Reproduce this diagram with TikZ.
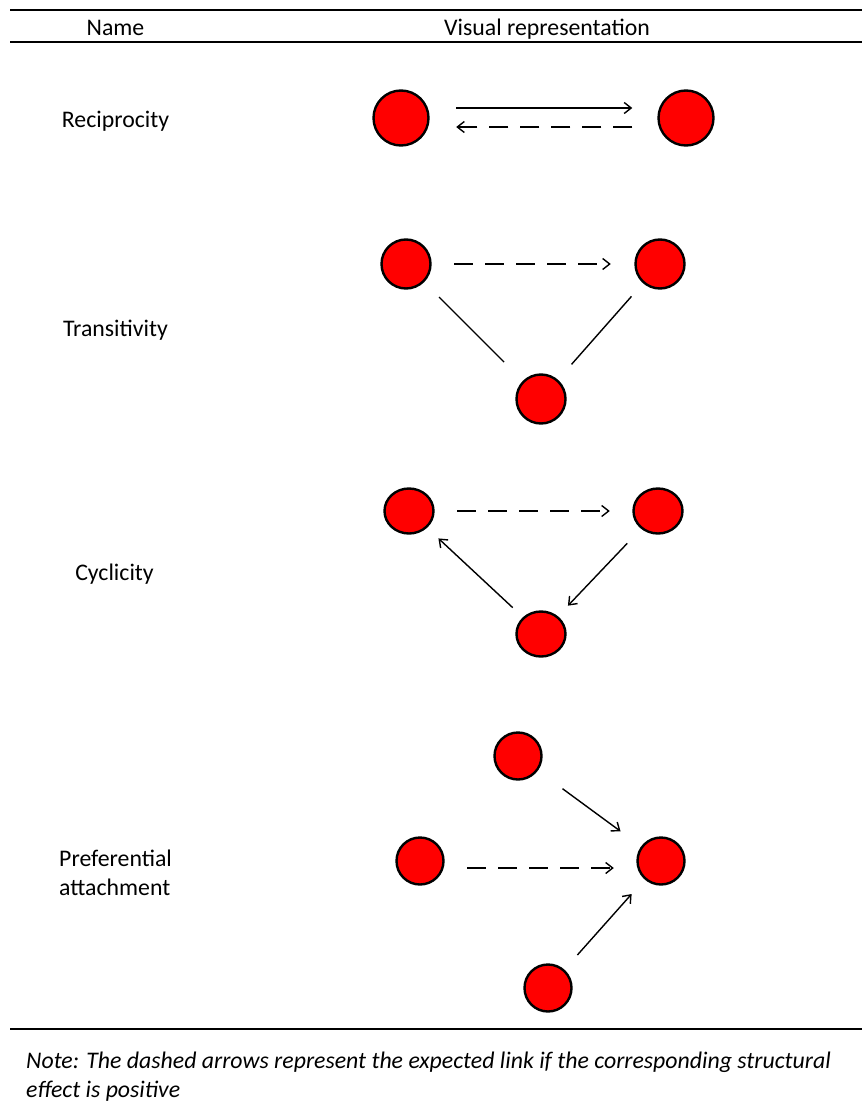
\documentclass[tikz,border=0pt]{standalone}
\usepackage{fontspec}
\setmainfont{Carlito}
\usetikzlibrary{arrows.meta,shapes.geometric}
\definecolor{nodered}{RGB}{255,0,0}
\tikzset{
  lbl/.style={anchor=base, inner sep=0pt, font=\fontsize{23.8}{29}\selectfont},
  dot/.style={circle, draw=black, fill=nodered, line width=2.4pt, minimum size=#1, inner sep=0pt},
  edot/.style={ellipse, draw=black, fill=nodered, line width=2.4pt, minimum width=49pt, minimum height=45pt, inner sep=0pt},
  rule/.style={line width=2.2pt},
  tie/.style={line width=1.4pt},
  arr/.style={line width=1.4pt, -{Straight Barb[length=7pt,width=11pt,line width=1.4pt]}},
  darr/.style={arr, dash pattern=on 19pt off 12pt},
}
\begin{document}
\begin{tikzpicture}[x=1pt,y=-1pt]
\useasboundingbox (0,0) rectangle (862,1113);
% rules
\coordinate (r1a) at (10,10); \coordinate (r1b) at (862,10);
\coordinate (r2a) at (10,42); \coordinate (r2b) at (862,42);
\coordinate (r3a) at (10,1029); \coordinate (r3b) at (862,1029);
\draw[rule] (r1a) -- (r1b);
\draw[rule] (r2a) -- (r2b);
\draw[rule] (r3a) -- (r3b);
% header
\node[lbl] (hname) at (115.5,36) {Name};
\node[lbl] (hvis) at (547,36) {Visual representation};
% labels
\node[lbl] (lrec) at (115.5,128) {Reciprocity};
\node[lbl] (ltra) at (115.5,336) {Transitivity};
\node[lbl] (lcyc) at (114.5,580) {Cyclicity};
\node[lbl, anchor=base west, align=left] (lpref) at (59,895) {Preferential\\attachment};
% Reciprocity
\node[dot=55pt] (ra) at (401,118) {};
\node[dot=55pt] (rb) at (686,118) {};
\draw[arr, shorten <=26.5pt, shorten >=25pt] ([yshift=10pt]ra.east) -- ([yshift=10pt]rb.west);
\draw[darr, shorten <=25pt, shorten >=26.5pt] ([yshift=-9pt]rb.west) -- ([yshift=-9pt]ra.east);
% Transitivity
\node[dot=49pt] (ta) at (406,264) {};
\node[dot=49pt] (tb) at (660,264) {};
\node[dot=49pt] (tc) at (541,399) {};
\draw[darr, shorten <=22.5pt, shorten >=23.5pt] (ta.east) -- (tb.west);
\draw[tie, shorten <=21pt, shorten >=26.5pt] (ta) -- (tc);
\draw[tie, shorten <=17.5pt, shorten >=20.5pt] (tb) -- (tc);
% Cyclicity
\node[edot] (ca) at (409,511) {};
\node[edot] (cb) at (658,511) {};
\node[edot] (cc) at (541,634) {};
\draw[darr, shorten <=22.5pt, shorten >=22.5pt] (ca.east) -- (cb.west);
\draw[arr, shorten <=14pt, shorten >=15.5pt] (cc) -- (ca);
\draw[arr, shorten <=20pt, shorten >=14.5pt] (cb) -- (cc);
% Preferential attachment
\node[dot=47pt] (pt) at (518,756) {};
\node[dot=47pt] (pl) at (420,861) {};
\node[dot=47pt] (pr) at (661,861) {};
\node[dot=47pt] (pb) at (548,988) {};
\draw[darr, shorten <=22.5pt, shorten >=22.5pt] ([yshift=-7pt]pl.east) -- ([yshift=-7pt]pr.west);
\draw[arr, shorten <=30.5pt, shorten >=25.5pt] (pt) -- (pr);
\draw[arr, shorten <=19.5pt, shorten >=19.5pt] (pb) -- (pr);
% note
\node[lbl, anchor=base west, align=left, font=\fontsize{23.8}{29}\selectfont\itshape] (note) at (26,1097)
  {Note: The dashed arrows represent the expected link if the corresponding structural\\effect is positive};
\end{tikzpicture}
\end{document}
